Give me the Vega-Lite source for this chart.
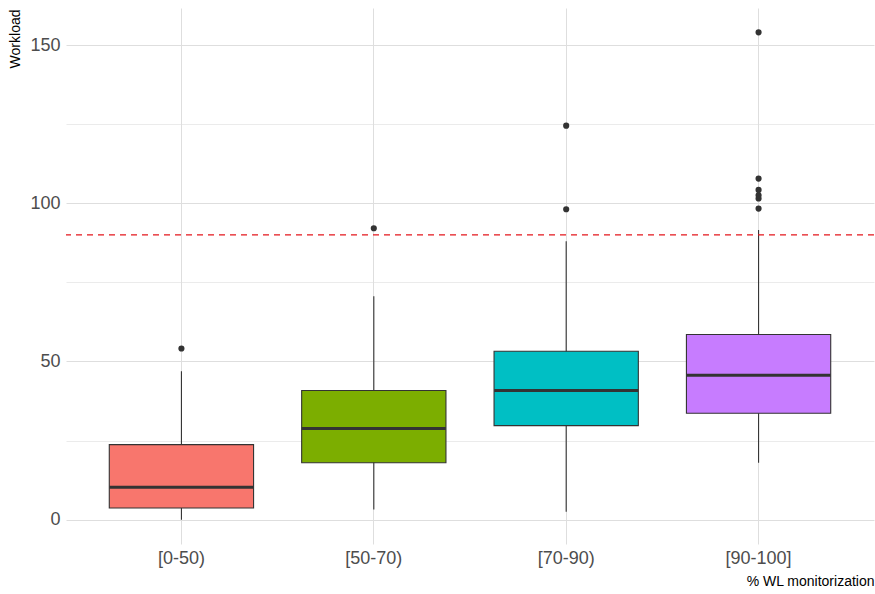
{
  "$schema": "https://vega.github.io/schema/vega-lite/v6.json",
  "width": 808,
  "height": 536,
  "autosize": {"type": "none"},
  "padding": {"left": 66, "top": 8, "right": 1, "bottom": 50},
  "background": "white",
  "config": {
    "font": "Liberation Sans",
    "view": {"stroke": null}
  },
  "datasets": {
    "boxes": [
      {"group": "[0-50)", "lower": 0.0, "q1": 3.7, "median": 10.2, "q3": 23.7, "upper": 46.9},
      {"group": "[50-70)", "lower": 3.2, "q1": 18.0, "median": 28.8, "q3": 40.8, "upper": 70.6},
      {"group": "[70-90)", "lower": 2.5, "q1": 29.7, "median": 40.8, "q3": 53.2, "upper": 88.0},
      {"group": "[90-100]", "lower": 18.0, "q1": 33.6, "median": 45.6, "q3": 58.5, "upper": 91.5}
    ],
    "outliers": [
      {"group": "[0-50)", "value": 54.1},
      {"group": "[50-70)", "value": 92.1},
      {"group": "[70-90)", "value": 98.1},
      {"group": "[70-90)", "value": 124.5},
      {"group": "[90-100]", "value": 98.3},
      {"group": "[90-100]", "value": 101.5},
      {"group": "[90-100]", "value": 102.5},
      {"group": "[90-100]", "value": 104.2},
      {"group": "[90-100]", "value": 107.8},
      {"group": "[90-100]", "value": 154.0}
    ],
    "threshold": [
      {"limit": 90}
    ]
  },
  "layer": [
    {
      "data": {"name": "boxes"},
      "mark": {"type": "rule", "color": "#333333", "strokeWidth": 1.1},
      "encoding": {
        "x": {
          "field": "group", "type": "nominal",
          "sort": ["[0-50)", "[50-70)", "[70-90)", "[90-100]"],
          "scale": {"type": "band", "paddingInner": 0, "paddingOuter": 0.1},
          "axis": {
            "title": "% WL monitorization",
            "titleAnchor": "end",
            "titleFontSize": 14,
            "titleFontWeight": "normal",
            "titleColor": "black",
            "titlePadding": 7,
            "labelFontSize": 18,
            "labelColor": "#4D4D4D",
            "labelPadding": 5,
            "labelAngle": 0,
            "ticks": false,
            "domain": false,
            "grid": true,
            "bandPosition": 0.5,
            "gridColor": "#DEDEDE",
            "gridWidth": 1
          }
        },
        "y": {
          "field": "lower", "type": "quantitative",
          "scale": {"domain": [-7.7, 161.7], "nice": false, "zero": false},
          "axis": {
            "title": "Workload",
            "titleAnchor": "end",
            "titleFontSize": 14,
            "titleFontWeight": "normal",
            "titleColor": "black",
            "titleX": -44,
            "titleY": 1,
            "titleAlign": "right",
            "titleAngle": 270,
            "values": [0, 25, 50, 75, 100, 125, 150],
            "labelExpr": "datum.value % 50 == 0 ? datum.label : ''",
            "labelFontSize": 18,
            "labelColor": "#4D4D4D",
            "labelPadding": 6,
            "ticks": false,
            "domain": false,
            "grid": true,
            "gridColor": "#DEDEDE",
            "gridWidth": {"expr": "datum.value % 50 == 0 ? 1 : 0.6"}
          }
        },
        "y2": {"field": "upper"}
      }
    },
    {
      "data": {"name": "boxes"},
      "mark": {"type": "bar", "width": {"band": 0.75}, "stroke": "#333333", "strokeWidth": 1.1},
      "encoding": {
        "x": {"field": "group", "type": "nominal", "sort": ["[0-50)", "[50-70)", "[70-90)", "[90-100]"]},
        "y": {"field": "q1", "type": "quantitative"},
        "y2": {"field": "q3"},
        "fill": {
          "field": "group", "type": "nominal", "legend": null,
          "scale": {"domain": ["[0-50)", "[50-70)", "[70-90)", "[90-100]"], "range": ["#F8766D", "#7CAE00", "#00BFC4", "#C77CFF"]}
        }
      }
    },
    {
      "data": {"name": "boxes"},
      "mark": {"type": "tick", "color": "#333333", "size": 144, "thickness": 3, "opacity": 1},
      "encoding": {
        "x": {"field": "group", "type": "nominal", "sort": ["[0-50)", "[50-70)", "[70-90)", "[90-100]"]},
        "y": {"field": "median", "type": "quantitative"}
      }
    },
    {
      "data": {"name": "outliers"},
      "mark": {"type": "circle", "color": "#333333", "size": 38, "opacity": 1},
      "encoding": {
        "x": {"field": "group", "type": "nominal", "sort": ["[0-50)", "[50-70)", "[70-90)", "[90-100]"]},
        "y": {"field": "value", "type": "quantitative"}
      }
    },
    {
      "data": {"name": "threshold"},
      "mark": {"type": "rule", "color": "#E4161C", "strokeWidth": 1.3, "strokeDash": [6, 5]},
      "encoding": {"y": {"field": "limit", "type": "quantitative"}}
    }
  ]
}
